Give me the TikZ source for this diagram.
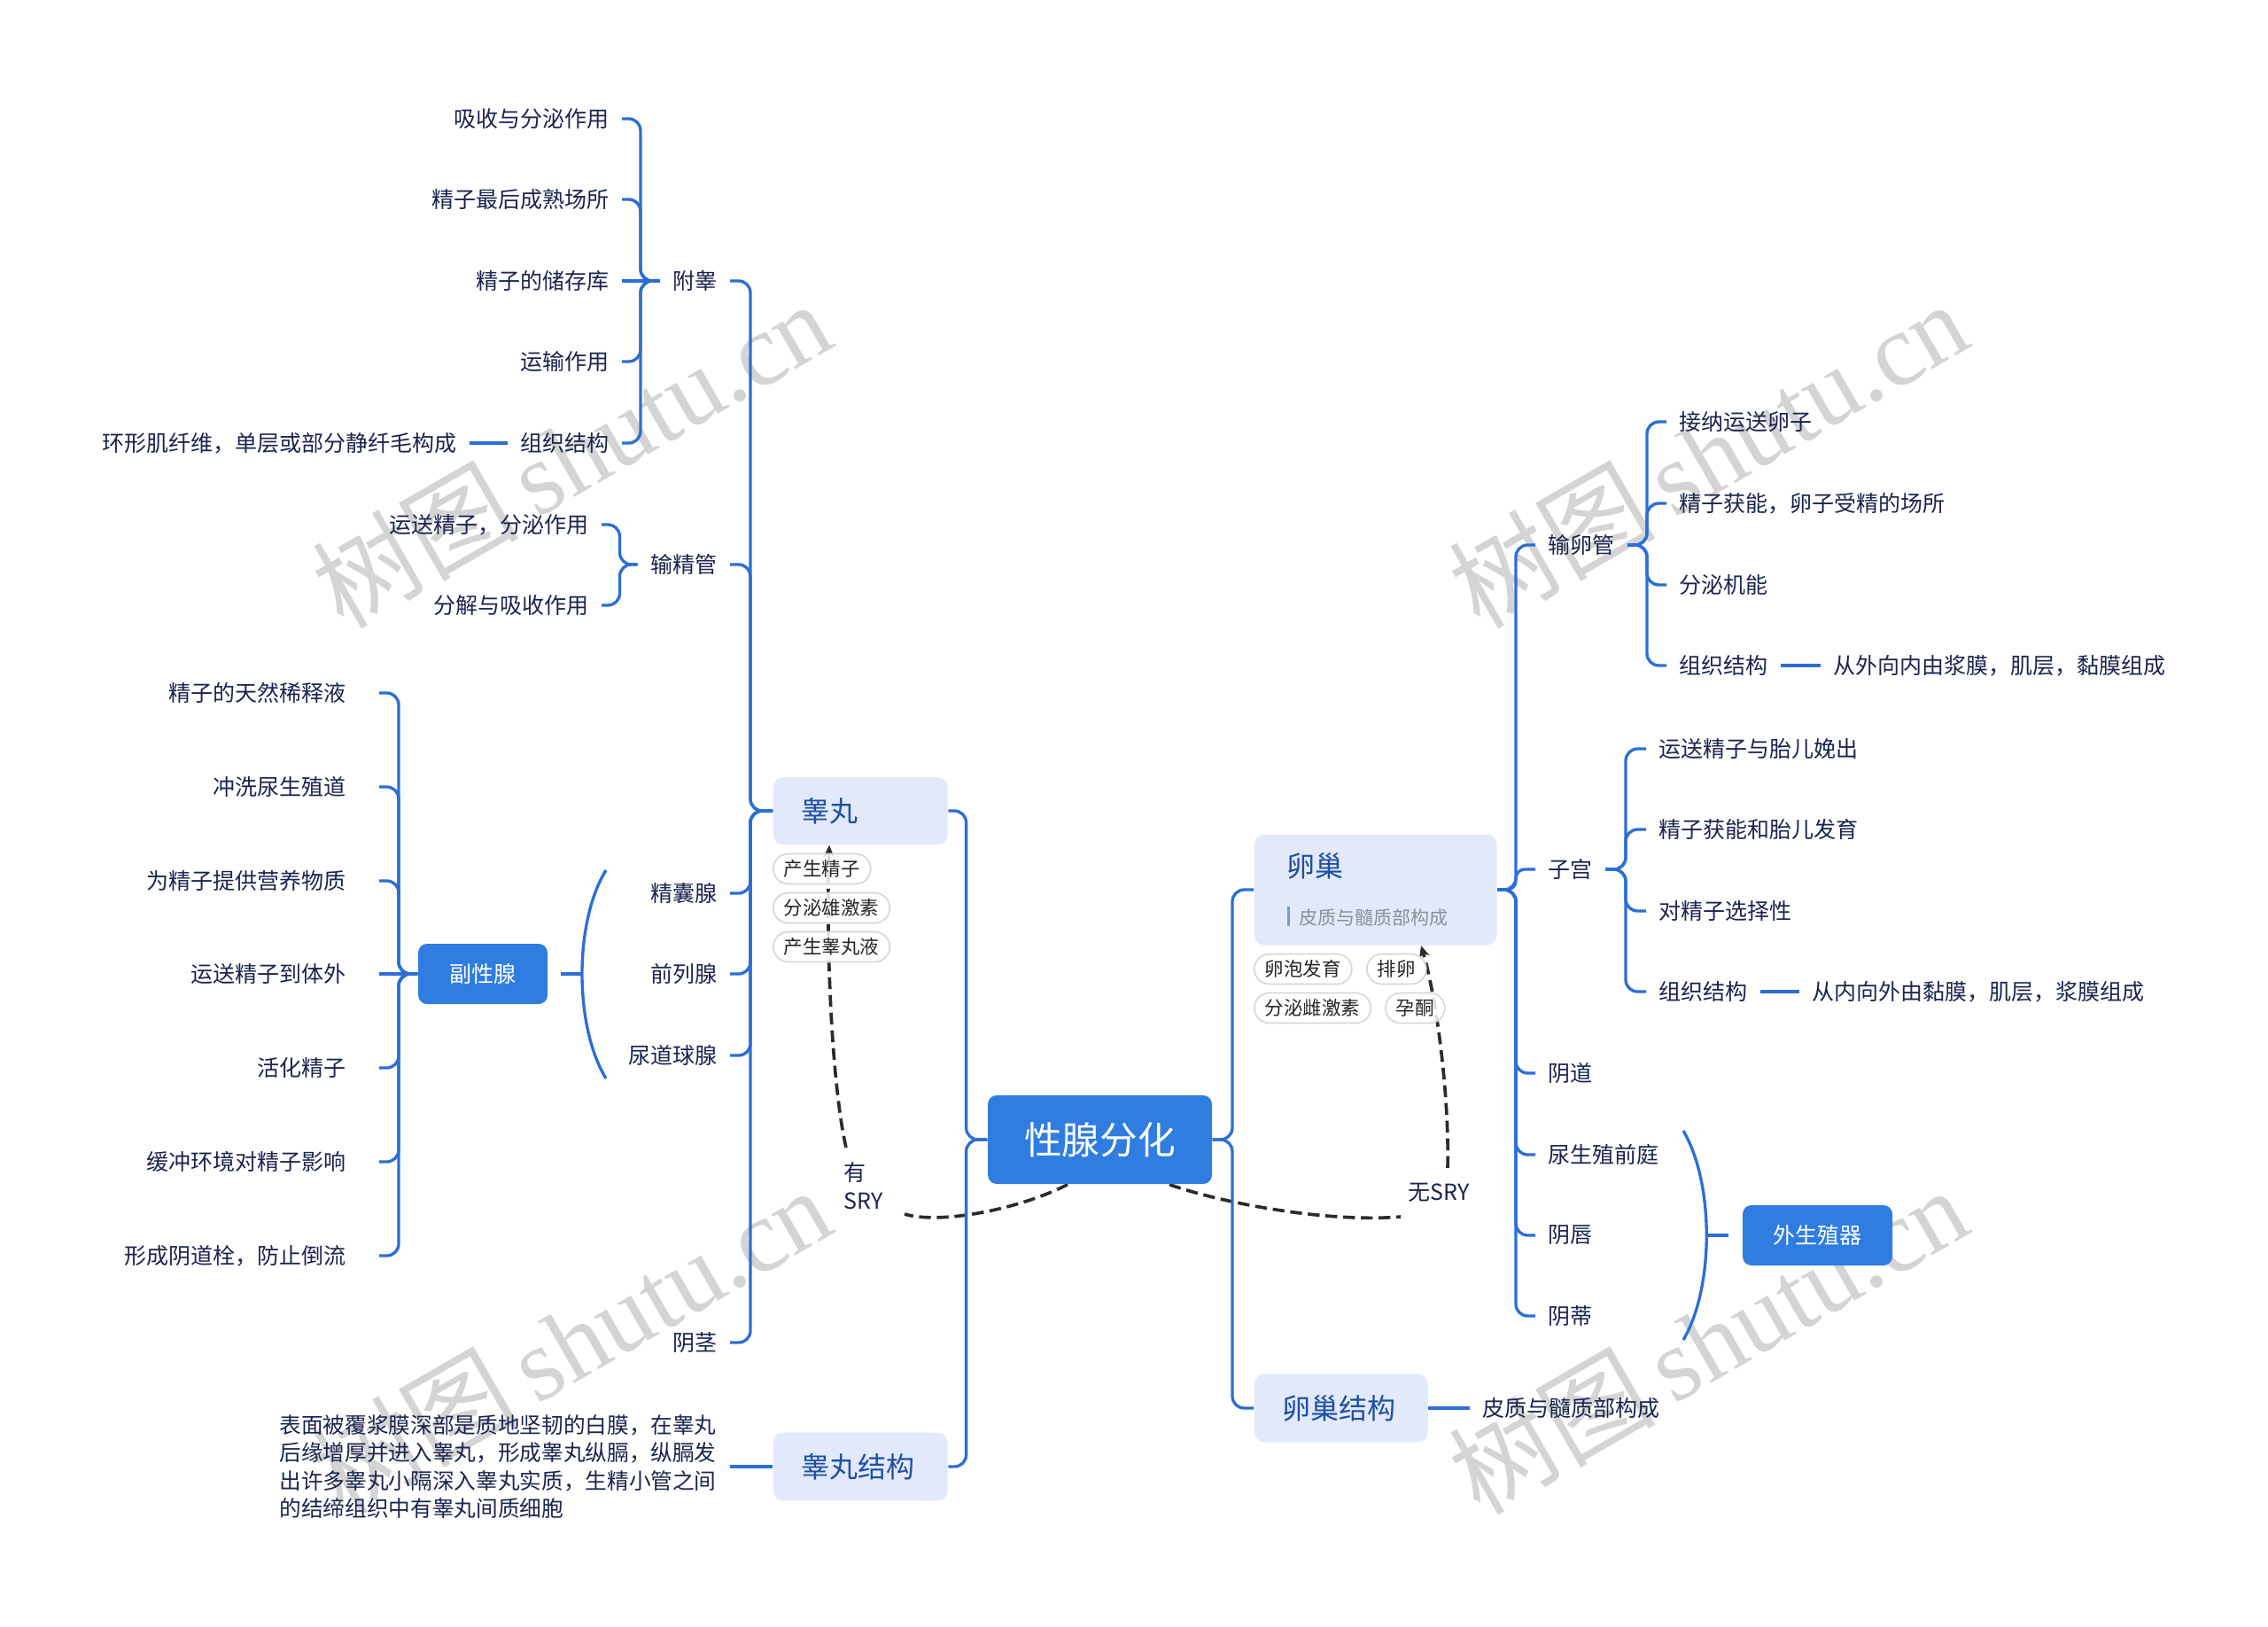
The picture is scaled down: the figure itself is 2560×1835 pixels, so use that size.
\documentclass[tikz,border=0pt]{standalone}
\usepackage{fontspec}
\setmainfont{Noto Sans CJK SC}
\newfontfamily\wmfont{Liberation Serif}
\newfontfamily\wmcjk{Noto Sans CJK SC}
\usetikzlibrary{calc,arrows.meta}
\definecolor{lineblue}{HTML}{2C6ED5}
\definecolor{mainblue}{HTML}{2F7DE1}
\definecolor{lightbox}{HTML}{E1E9FB}
\definecolor{boxtext}{HTML}{1F4FA3}
\definecolor{leaftext}{HTML}{1A244E}
\definecolor{subgray}{HTML}{8C9099}
\definecolor{barblue}{HTML}{6F9BE6}
\definecolor{pillborder}{HTML}{D6D6D6}
\definecolor{dashcol}{HTML}{2B2B2B}
\definecolor{wmgray}{HTML}{D4D4D4}
\pgfdeclarelayer{wmlayer}
\pgfdeclarelayer{bg}
\pgfsetlayers{wmlayer,bg,main}
\begin{document}
\begin{tikzpicture}[x=0.3pt,y=-0.3pt,
  conn/.style={draw=lineblue,line width=1pt,rounded corners=4pt},
  bracket/.style={draw=lineblue,line width=1pt},
  rootbox/.style={fill=mainblue,rounded corners=3pt,minimum width=75.9pt,minimum height=30pt,text=white,font=\fontsize{12.8pt}{14pt}\selectfont,inner sep=0pt},
  bluebox/.style={fill=mainblue,rounded corners=3pt,minimum height=20.4pt,text=white,font=\fontsize{7.5pt}{9pt}\selectfont,inner sep=0pt},
  lbox/.style={fill=lightbox,rounded corners=3.5pt,text=boxtext,font=\fontsize{9.6pt}{11pt}\selectfont,align=left,inner ysep=0pt,anchor=west},
  leaf/.style={text=leaftext,font=\fontsize{7.5pt}{9.45pt}\selectfont,inner xsep=4.2pt,inner ysep=2pt},
  leafL/.style={leaf,anchor=east},
  leafR/.style={leaf,anchor=west},
  accL/.style={leaf,anchor=east,inner xsep=11.1pt},
  pill/.style={draw=pillborder,line width=0.5pt,fill=white,fill opacity=0.85,text opacity=1,rounded corners=5.1pt,minimum height=10.2pt,inner xsep=3.6pt,inner ysep=0pt,anchor=west,text=black!85,font=\fontsize{6.45pt}{7pt}\selectfont},
  dashc/.style={draw=dashcol,line width=1.1pt,dash pattern=on 4pt off 2pt},
  wm/.style={text=wmgray,rotate=30,font=\fontsize{35pt}{38pt}\selectfont}
]
\useasboundingbox (0,0) rectangle (2560,1835);

% ---------- main nodes ----------
\node[rootbox] (root) at (1241.5,1286) {性腺分化};
\node[lbox,minimum width=59.1pt,minimum height=22.8pt,text width=40pt,inner xsep=9.55pt] (testis) at (872,915) {睾丸};
\node[lbox,minimum width=59.1pt,minimum height=23.1pt,text width=40pt,inner xsep=9.55pt] (testst) at (872,1655) {睾丸结构};
\node[lbox,minimum width=82.2pt,minimum height=37.5pt,text width=60pt,inner xsep=11.1pt,font=\fontsize{9.6pt}{16.2pt}\selectfont] (ovary) at (1415,1004) {卵巢\\{\fontsize{6.3pt}{7pt}\selectfont\textcolor{barblue}{\rule[-0.6pt]{0.9pt}{6.6pt}}\hspace{3.3pt}\textcolor{subgray}{皮质与髓质部构成}}};
\node[lbox,minimum width=58.8pt,minimum height=23.1pt,text width=40pt,inner xsep=9.4pt] (ovst) at (1415,1589) {卵巢结构};

% ---------- left: testis branch ----------
\node[leafL] (epid) at (824,317) {附睾};
\node[leafL] (vas) at (824,637) {输精管};
\node[leafL] (sv) at (824,1008) {精囊腺};
\node[leafL] (pros) at (824,1099) {前列腺};
\node[leafL] (bul) at (824,1191) {尿道球腺};
\node[leafL] (penis) at (824,1515) {阴茎};

\node[leafL] (e1) at (702,134) {吸收与分泌作用};
\node[leafL] (e2) at (702,225) {精子最后成熟场所};
\node[leafL] (e3) at (702,317) {精子的储存库};
\node[leafL] (e4) at (702,408) {运输作用};
\node[leafL] (e5) at (702,500) {组织结构};
\node[leafL] (e5x) at (530,500) {环形肌纤维，单层或部分静纤毛构成};

\node[leafL] (v1) at (679,592) {运送精子，分泌作用};
\node[leafL] (v2) at (679,683) {分解与吸收作用};

\node[bluebox,minimum width=43.8pt] (acc) at (545,1099) {副性腺};
\node[accL] (a1) at (428,782) {精子的天然稀释液};
\node[accL] (a2) at (428,888) {冲洗尿生殖道};
\node[accL] (a3) at (428,994) {为精子提供营养物质};
\node[accL] (a4) at (428,1099) {运送精子到体外};
\node[accL] (a5) at (428,1205) {活化精子};
\node[accL] (a6) at (428,1311) {缓冲环境对精子影响};
\node[accL] (a7) at (428,1417) {形成阴道栓，防止倒流};

\node[leafL,align=left,text width=148.2pt,font=\fontsize{7.4pt}{9.45pt}\selectfont] (para) at (824,1655) {表面被覆浆膜深部是质地坚韧的白膜，在睾丸\\后缘增厚并进入睾丸，形成睾丸纵膈，纵膈发\\出许多睾丸小隔深入睾丸实质，生精小管之间\\的结缔组织中有睾丸间质细胞};

% ---------- right: ovary branch ----------
\node[leafR] (ov1) at (1733,615) {输卵管};
\node[leafR] (ov2) at (1733,981) {子宫};
\node[leafR] (ov3) at (1733,1211) {阴道};
\node[leafR] (ov4) at (1733,1303) {尿生殖前庭};
\node[leafR] (ov5) at (1733,1394) {阴唇};
\node[leafR] (ov6) at (1733,1485) {阴蒂};

\node[leafR] (t1) at (1881,476) {接纳运送卵子};
\node[leafR] (t2) at (1881,568) {精子获能，卵子受精的场所};
\node[leafR] (t3) at (1881,660) {分泌机能};
\node[leafR] (t4) at (1881,751) {组织结构};
\node[leafR] (t4x) at (2055,751) {从外向内由浆膜，肌层，黏膜组成};

\node[leafR] (u1) at (1858,845) {运送精子与胎儿娩出};
\node[leafR] (u2) at (1858,936) {精子获能和胎儿发育};
\node[leafR] (u3) at (1858,1028) {对精子选择性};
\node[leafR] (u4) at (1858,1119) {组织结构};
\node[leafR] (u4x) at (2031,1119) {从内向外由黏膜，肌层，浆膜组成};

\node[bluebox,minimum width=50.7pt] (ext) at (2051.5,1394) {外生殖器};
\node[leafR] (ovstx) at (1659,1589) {皮质与髓质部构成};

% ---------- SRY labels ----------
\node[leaf,anchor=west,inner sep=0pt,align=left] (lbl1) at (952,1338) {有\\SRY};
\node[leaf,anchor=west,inner sep=0pt] (lbl2) at (1589,1346) {无SRY};

% ---------- dashed connectors (behind) ----------
\begin{pgfonlayer}{bg}
\coordinate (yA) at (1021,1370);
\coordinate (yB) at (955,1295);
\coordinate (nA) at (1581,1373);
\coordinate (nB) at (1634,1318);
\draw[dashc] ($(root.south)+(-36.5,0)$) .. controls (1150,1365) and (1060,1382) .. (yA);
\draw[dashc,-{Stealth[length=4pt,width=3.6pt]}] (yB) .. controls (940,1230) and (932,1080) .. ($(testis.south west)+(64,0)$);
\draw[dashc] ($(root.south)+(78.5,0)$) .. controls (1380,1358) and (1500,1380) .. (nA);
\draw[dashc,-{Stealth[length=4pt,width=3.6pt]}] (nB) .. controls (1636,1230) and (1620,1120) .. ($(ovary.south west)+(189,0)$);
\end{pgfonlayer}

% ---------- tags ----------
\node[pill] (p1) at (872,980.5) {产生精子};
\node[pill] (p2) at (872,1024.5) {分泌雄激素};
\node[pill] (p3) at (872,1068.5) {产生睾丸液};
\node[pill] (q1) at (1415,1093.5) {卵泡发育};
\node[pill] (q2) at (1542,1093.5) {排卵};
\node[pill] (q3) at (1415,1137.5) {分泌雌激素};
\node[pill] (q4) at (1563,1137.5) {孕酮};

% ---------- blue connectors ----------
\foreach \c in {testis,testst} \draw[conn] (root.west) -- (1090.6,1286) |- (\c.east);
\foreach \c in {ovary,ovst} \draw[conn] (root.east) -- (1391,1286) |- (\c.west);

\foreach \c in {epid,vas,sv,pros,bul,penis} \draw[conn] (testis.west) -- (847,915) |- (\c.east);
\foreach \c in {e1,e2,e4,e5} \draw[conn] (epid.west) -- (723,317) |- (\c.east);
\draw[conn] (epid.west) -- (e3.east);
\draw[conn] (e5.west) -- (e5x.east);
\foreach \c in {v1,v2} \draw[conn] (vas.west) -- (699.5,637) |- (\c.east);
\draw[conn] (testst.west) -- (para.east);

\draw[bracket] (684,982) .. controls (648,1040) and (648,1158) .. (684,1217);
\coordinate (accB) at (657,1099);
\draw[conn] (accB) -- ($(acc.east)+(14,0)$);
\foreach \c in {a1,a2,a3,a5,a6,a7} \draw[conn] (acc.west) -- (450,1099) |- (\c.east);
\draw[conn] (acc.west) -- (a4.east);

\foreach \c in {ov1,ov3,ov4,ov5,ov6} \draw[conn] (ovary.east) -- (1711,1004) |- (\c.west);
\draw[conn,rounded corners=3pt] (ovary.east) -- (1711,1004) |- (ov2.west);
\foreach \c in {t1,t2,t3,t4} \draw[conn] (ov1.east) -- (1859,615) |- (\c.west);
\draw[conn] (t4.east) -- (t4x.west);
\foreach \c in {u1,u2,u3,u4} \draw[conn] (ov2.east) -- (1835,981) |- (\c.west);
\draw[conn] (u4.east) -- (u4x.west);

\draw[bracket] (1900,1276) .. controls (1935,1335) and (1935,1453) .. (1900,1512);
\coordinate (extB) at (1926,1394);
\draw[conn] (extB) -- ($(ext.west)+(-15,0)$);
\draw[conn] (ovst.east) -- (ovstx.west);

% ---------- watermarks (behind everything) ----------
\begin{pgfonlayer}{wmlayer}
\node[wm] (wm1) at (645,512) {{\wmcjk 树图}\,{\wmfont shutu.cn}};
\node[wm] (wm2) at (1928,512) {{\wmcjk 树图}\,{\wmfont shutu.cn}};
\node[wm] (wm3) at (645,1512) {{\wmcjk 树图}\,{\wmfont shutu.cn}};
\node[wm] (wm4) at (1928,1512) {{\wmcjk 树图}\,{\wmfont shutu.cn}};
\end{pgfonlayer}
\end{tikzpicture}
\end{document}
